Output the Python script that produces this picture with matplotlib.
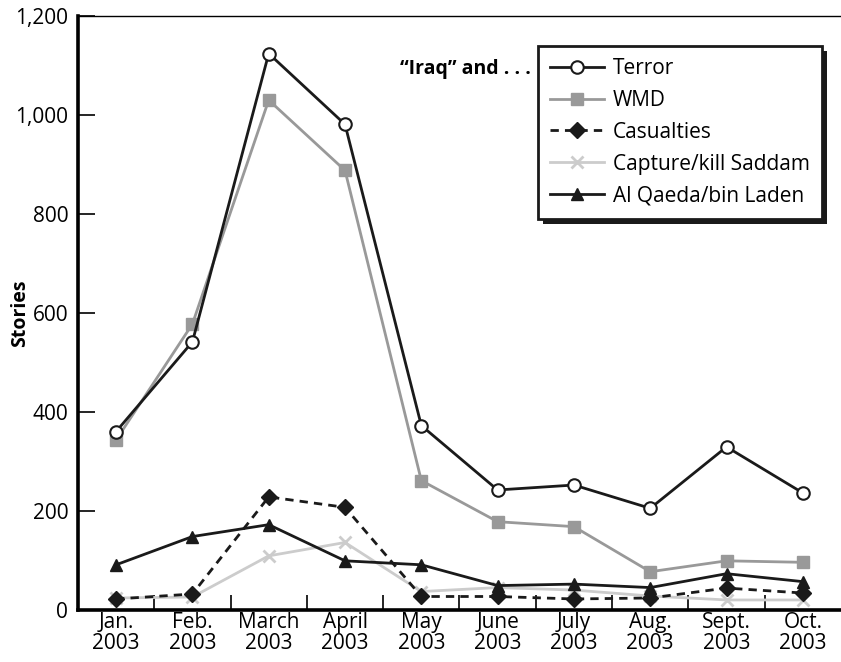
import matplotlib.pyplot as plt
import numpy as np
from matplotlib.patches import Rectangle
from matplotlib.transforms import IdentityTransform

months = ["Jan.\n2003", "Feb.\n2003", "March\n2003", "April\n2003", "May\n2003",
          "June\n2003", "July\n2003", "Aug.\n2003", "Sept.\n2003", "Oct.\n2003"]

terror = [361, 542, 1124, 981, 373, 243, 253, 206, 330, 237]
wmd = [344, 578, 1030, 888, 262, 179, 169, 78, 100, 97]
casualties = [23, 33, 229, 208, 28, 28, 23, 25, 45, 35]
capture = [25, 27, 110, 137, 38, 46, 41, 29, 21, 21]
alqaeda = [92, 149, 173, 100, 92, 50, 53, 46, 74, 58]

plt.rcParams['font.family'] = ['Open Sans', 'DejaVu Sans']

fig = plt.figure(figsize=(8.41, 6.62), dpi=100)
ax = fig.add_axes([0.0927, 0.078, 0.9073, 0.898])

x = np.arange(len(months))
lw = 2.0
ax.plot(x, terror, color="#1a1a1a", lw=lw, marker="o", ms=9,
        mfc="white", mec="#1a1a1a", mew=1.5, label="Terror", zorder=5)
ax.plot(x, wmd, color="#999999", lw=lw, marker="s", ms=8,
        mfc="#999999", mec="#999999", label="WMD", zorder=4)
ax.plot(x, casualties, color="#1a1a1a", lw=lw, ls=(0, (3, 2.2)), marker="D", ms=8,
        mfc="#1a1a1a", mec="#1a1a1a", label="Casualties", zorder=3)
ax.plot(x, capture, color="#cccccc", lw=lw, marker="x", ms=9, mew=2,
        label="Capture/kill Saddam", zorder=2)
ax.plot(x, alqaeda, color="#1a1a1a", lw=lw, marker="^", ms=9,
        mfc="#1a1a1a", mec="#1a1a1a", label="Al Qaeda/bin Laden", zorder=3)

ax.set_xlim(-0.5, 9.5)
ax.set_ylim(0, 1200)
ax.set_yticks(np.arange(0, 1201, 200))
ax.set_yticklabels([f"{v:,}" for v in range(0, 1201, 200)])
ax.set_xticks(x)
ax.set_xticklabels(months)
ax.set_xticks(np.arange(0.5, 9.5, 1), minor=True)

ax.tick_params(axis="y", direction="in", length=12, width=1.2, labelsize=15, pad=7)
ax.tick_params(axis="x", which="major", length=0, labelsize=15, pad=1)
ax.tick_params(axis="x", which="minor", direction="in", length=11, width=1.2)
for lab in ax.get_xticklabels():
    lab.set_linespacing(1.0)

ax.spines["left"].set_linewidth(2.6)
ax.spines["bottom"].set_linewidth(2.6)
ax.spines["top"].set_linewidth(1.0)
ax.spines["right"].set_visible(False)

ax.set_ylabel("Stories", fontsize=14, fontweight="bold")
ax.yaxis.set_label_coords(-0.063, 0.5)

leg = ax.legend(loc="upper right", bbox_to_anchor=(0.975, 0.95), fontsize=15,
                frameon=True, fancybox=False, edgecolor="#1a1a1a", framealpha=1.0,
                facecolor="white", handlelength=2.6, labelspacing=0.52,
                borderpad=0.6, handletextpad=0.4, borderaxespad=0)
leg.get_frame().set_linewidth(2.0)
leg.set_zorder(10)

# solid drop shadow behind the legend box
fig.canvas.draw()
bb = leg.get_window_extent()
ax.add_patch(Rectangle((bb.x0 + 5, bb.y0 - 5), bb.width, bb.height,
                       transform=IdentityTransform(), facecolor="#1a1a1a",
                       edgecolor="none", zorder=9, clip_on=False))

ax.text(0.593, 0.91, "\u201cIraq\u201d and . . .", transform=ax.transAxes,
        fontsize=14, fontweight="bold", ha="right", va="center")

fig.savefig("out.png", dpi=100)
